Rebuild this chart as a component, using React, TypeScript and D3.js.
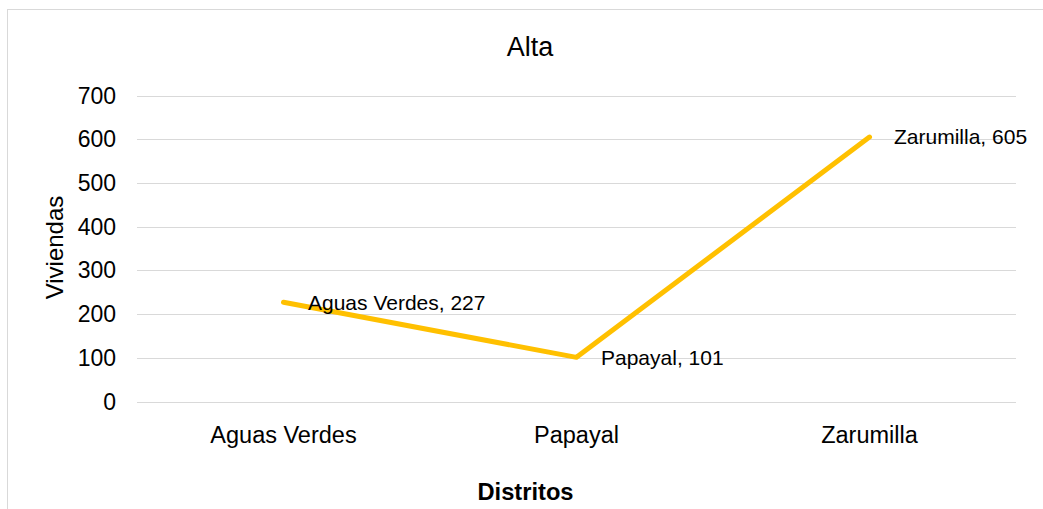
import React from "react";
import * as d3 from "d3";

const categories = ["Aguas Verdes", "Papayal", "Zarumilla"];
const values = [227, 101, 605];
const yTicks = [0, 100, 200, 300, 400, 500, 600, 700];
const title = "Alta";
const yTitle = "Viviendas";
const xTitle = "Distritos";

export default function App() {
  const W = 1043, H = 509;
  const left = 137, right = 1016, top = 95.5, bottom = 401.5;
  const x = d3.scaleBand<string>().domain(categories).range([left, right]);
  const y = d3.scaleLinear().domain([0, 700]).range([bottom, top]);
  const cx = (c: string) => (x(c) as number) + x.bandwidth() / 2;
  const line = d3.line<number>().x((_, i) => cx(categories[i])).y((v) => y(v));
  const font = "Arial, 'Liberation Sans', sans-serif";
  return (
    <svg width={W} height={H} style={{ position: "absolute", left: 0, top: 0, background: "#fff" }} fontFamily={font}>
      <rect x={7.5} y={9.5} width={1100} height={600} fill="#fff" stroke="#d9d9d9" strokeWidth={1} />
      {yTicks.map((t) => (
        <g key={t}>
          <line x1={left} x2={right} y1={Math.round(y(t)) + 0.5} y2={Math.round(y(t)) + 0.5} stroke="#d9d9d9" strokeWidth={1} />
          <text x={116} y={y(t)} dy="0.35em" textAnchor="end" fontSize={23} fill="#000">{t}</text>
        </g>
      ))}
      {categories.map((c) => (
        <text key={c} x={cx(c)} y={443} textAnchor="middle" fontSize={23.5} fill="#000">{c}</text>
      ))}
      <path d={line(values) || ""} fill="none" stroke="#FFC000" strokeWidth={5} strokeLinejoin="round" strokeLinecap="round" />
      {categories.map((c, i) => (
        <text key={c} x={cx(c) + 24.5} y={y(values[i])} dy="0.35em" fontSize={21} fill="#000">{`${c}, ${values[i]}`}</text>
      ))}
      <text x={530} y={56} textAnchor="middle" fontSize={27} fill="#000">{title}</text>
      <text transform={`translate(63,247.5) rotate(-90)`} textAnchor="middle" fontSize={24} fill="#000">{yTitle}</text>
      <text x={525.5} y={500} textAnchor="middle" fontSize={23.7} fontWeight="bold" fill="#000">{xTitle}</text>
    </svg>
  );
}
